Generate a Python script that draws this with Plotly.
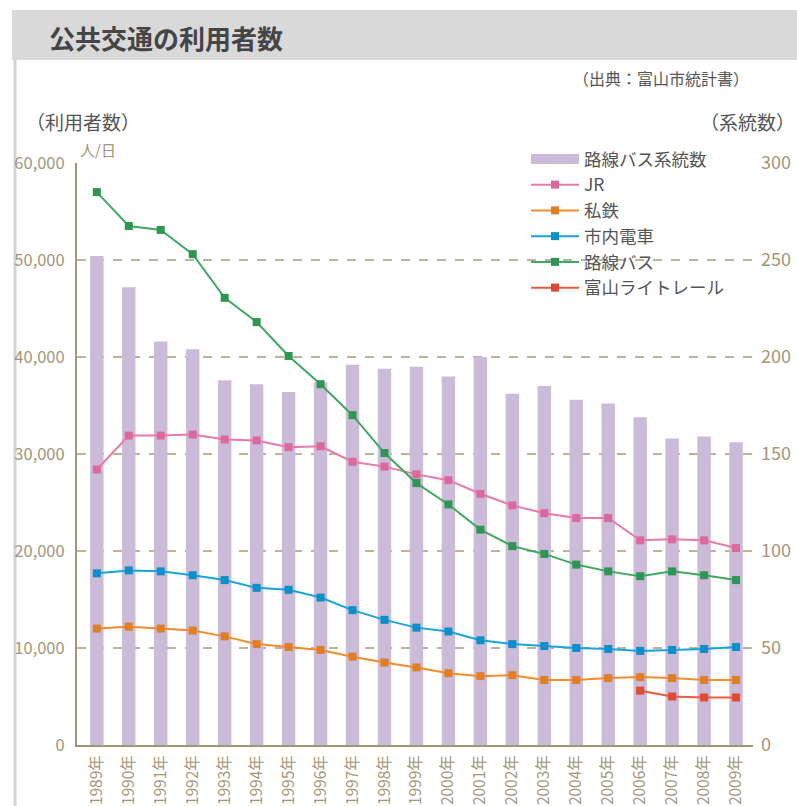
import plotly.graph_objects as go

years = [f"{y}年" for y in range(1989, 2010)]
bus_routes = [252, 236, 208, 204, 188, 186, 182, 187, 196, 194, 195, 190, 200, 181, 185, 178, 176, 169, 158, 159, 156]
jr = [28400, 31900, 31900, 32000, 31500, 31400, 30700, 30800, 29200, 28700, 27900, 27300, 25900, 24700, 23900, 23400, 23400, 21100, 21200, 21100, 20300]
private_rail = [12000, 12200, 12000, 11800, 11200, 10400, 10100, 9800, 9100, 8500, 8000, 7400, 7100, 7200, 6700, 6700, 6900, 7000, 6900, 6700, 6700]
tram = [17700, 18000, 17900, 17500, 17000, 16200, 16000, 15200, 13900, 12900, 12100, 11700, 10800, 10400, 10200, 10000, 9900, 9700, 9800, 9900, 10100]
bus = [57000, 53500, 53100, 50600, 46100, 43600, 40100, 37200, 34000, 30100, 27000, 24800, 22200, 20500, 19700, 18600, 17900, 17400, 17900, 17500, 17000]
light_rail = [None] * 17 + [5600, 5000, 4900, 4900]

W, H = 797, 806
L, R, T, B = 77, 44, 163, 61
PW = W - L - R
PH = H - T - B

def px(x):
    return (x - L) / PW

def py(y):
    return (H - B - y) / PH

TAN = "#a39677"
GRID = "#bdb398"
TXT = "#555555"
BAR = "#cbbbd9"
FONT = "Noto Sans CJK JP"

fig = go.Figure()
fig.add_trace(go.Bar(
    x=years, y=bus_routes, name="路線バス系統数", yaxis="y",
    marker=dict(color=BAR, line=dict(width=0)), width=0.42,
    showlegend=False,
))
# legend entry for the bars (wide swatch)
fig.add_trace(go.Scatter(
    x=[None], y=[None], name="路線バス系統数", yaxis="y2", mode="lines",
    line=dict(color=BAR, width=14), showlegend=True,
))
lines = [
    ("JR", jr, "#ec79a6", "#db6a9c"),
    ("私鉄", private_rail, "#f08c2e", "#e07e24"),
    ("市内電車", tram, "#1aa3dc", "#0b8fc8"),
    ("路線バス", bus, "#3fa862", "#2f9552"),
    ("富山ライトレール", light_rail, "#ea5a3f", "#e04a32"),
]
for nm, vals, c, mc in lines:
    fig.add_trace(go.Scatter(
        x=years, y=vals, name=nm, yaxis="y2", mode="lines+markers",
        line=dict(color=c, width=2),
        marker=dict(symbol="square", size=8, color=mc),
    ))

fig.update_layout(
    width=W, height=H,
    margin=dict(l=L, r=R, t=T, b=B, autoexpand=False),
    paper_bgcolor="white", plot_bgcolor="white",
    font=dict(family=FONT, color=TXT),
    xaxis=dict(
        type="category", range=[-0.62, 20.53],
        showline=True, linecolor=TAN, linewidth=2,
        showgrid=False, ticks="", tickangle=-90,
        tickfont=dict(size=15.5, color=TAN, family=FONT),
        ticklabelstandoff=2,
        fixedrange=True,
    ),
    yaxis=dict(
        side="right", range=[0, 300], tickvals=[0, 50, 100, 150, 200, 250, 300],
        showgrid=True, gridcolor=GRID, griddash="dash", gridwidth=1.5,
        zeroline=False, showline=False, ticks="",
        tickfont=dict(size=18, color=TAN, family=FONT),
        ticklabelstandoff=7,
    ),
    yaxis2=dict(
        overlaying="y", side="left", range=[0, 60000], dtick=10000,
        tickformat=",", showgrid=False, zeroline=False,
        showline=True, linecolor=TAN, linewidth=2, ticks="",
        tickfont=dict(size=16.5, color=TAN, family=FONT),
        ticklabelstandoff=7,
    ),
    legend=dict(
        x=px(526), y=py(141), xanchor="left", yanchor="top",
        bgcolor="rgba(0,0,0,0)", font=dict(size=17.5, color=TXT, family=FONT),
        itemwidth=48, tracegroupgap=0,
    ),
    showlegend=True,
)

shapes = [
    dict(type="rect", xref="paper", yref="paper", x0=px(12), x1=px(797), y0=py(60), y1=py(10),
         fillcolor="#d9d9d9", line=dict(width=0), layer="below"),
    dict(type="line", xref="paper", yref="paper", x0=px(15), x1=px(15), y0=py(60), y1=py(806),
         line=dict(color="#d3d3d3", width=3), layer="below"),
]
fig.update_layout(shapes=shapes)

ann = [
    dict(text="<b>公共交通の利用者数</b>", x=px(47), y=py(37), xanchor="left", yanchor="middle",
         font=dict(size=26, color="#454545", family=FONT)),
    dict(text="（出典：富山市統計書）", x=px(751), y=py(78), xanchor="right", yanchor="middle",
         font=dict(size=16, color=TXT, family=FONT)),
    dict(text="（利用者数）", x=px(24), y=py(121), xanchor="left", yanchor="middle",
         font=dict(size=19, color=TXT, family=FONT)),
    dict(text="（系統数）", x=px(797), y=py(121), xanchor="right", yanchor="middle",
         font=dict(size=19, color=TXT, family=FONT)),
    dict(text="人/日", x=px(78), y=py(149), xanchor="left", yanchor="middle",
         font=dict(size=15, color=TAN, family=FONT)),
]
for a in ann:
    a.update(xref="paper", yref="paper", showarrow=False)
fig.update_layout(annotations=ann)

fig.write_html("out.html", config={"displayModeBar": False},
               post_script="document.body.style.margin='0px';document.body.style.overflow='hidden';")
